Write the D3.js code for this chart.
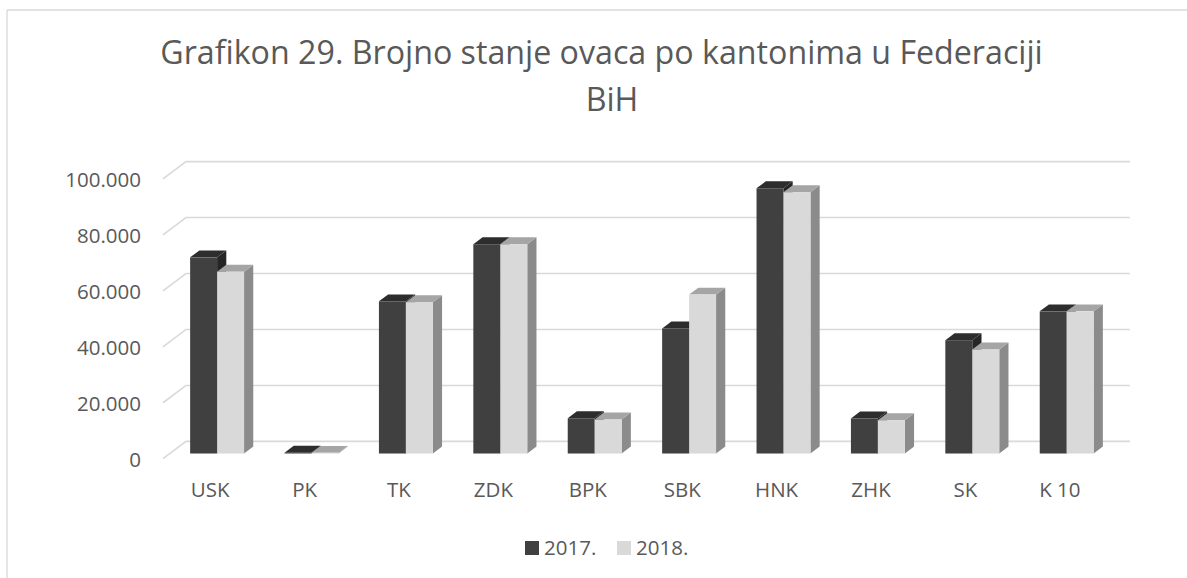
<!DOCTYPE html>
<html><head><meta charset="utf-8">
<script src="https://cdn.jsdelivr.net/npm/d3@7"></script>
<style>body{margin:0;background:#fff;}svg{display:block;}</style>
</head><body>
<svg id="c" width="1187" height="578"></svg>
<script>
const categories = ["USK","PK","TK","ZDK","BPK","SBK","HNK","ZHK","SK","K 10"];
const series = ["2017.","2018."];
const values2017 = [70100, 300, 54400, 74800, 12600, 44700, 94800, 12500, 40500, 50800];
const values2018 = [65000, 250, 54100, 74800, 12150, 56800, 93400, 11900, 37200, 50800];
const yTicks = [0, 20000, 40000, 60000, 80000, 100000];
const titleLines = ["Grafikon 29. Brojno stanje ovaca po kantonima u Federaciji", "BiH"];

const FONT = "'Open Sans', sans-serif";
const TXT = "#595959";
const svg = d3.select("#c");

// frame
svg.append("line").attr("x1",7).attr("y1",10).attr("x2",1187).attr("y2",10).attr("stroke","#d9d9d9").attr("stroke-width",1.3);
svg.append("line").attr("x1",7).attr("y1",10).attr("x2",7).attr("y2",578).attr("stroke","#d9d9d9").attr("stroke-width",1.3);

// geometry (oblique 3D)
const depthX = 23, depthY = -17.3;
const x = d3.scaleBand().domain(categories).range([163, 1107]).padding(0);
const y = d3.scaleLinear().domain([0, 100000]).range([458.7, 178.9]);
const inner = d3.scaleBand().domain(series).range([0, x.bandwidth()]).paddingInner(0).paddingOuter(0.75);
const f0 = 0.3, f1 = 0.7; // bar depth fractions

// gridlines
const g = svg.append("g");
yTicks.forEach(t => {
  const yf = y(t);
  g.append("path")
    .attr("d", `M${x.range()[0]},${yf} L${x.range()[0]+depthX},${yf+depthY} L${x.range()[1]+depthX},${yf+depthY}`)
    .attr("fill","none").attr("stroke","#d9d9d9").attr("stroke-width",1.6);
});

// y labels
const yAxis = d3.axisLeft(y).tickValues(yTicks).tickSize(0).tickPadding(0)
  .tickFormat(d => d3.format(",")(d).replace(/,/g, "."));
const ya = svg.append("g").attr("transform","translate(141,0)").call(yAxis);
ya.select(".domain").remove();
ya.selectAll("text").attr("font-family",FONT).attr("font-size","20.5px").attr("fill",TXT).attr("dy","0.36em");

// x labels
const xAxis = d3.axisBottom(x).tickSize(0).tickPadding(0);
const xa = svg.append("g").attr("transform","translate(0,497)").call(xAxis);
xa.select(".domain").remove();
xa.selectAll("text").attr("font-family",FONT).attr("font-size","20.5px").attr("fill",TXT).attr("dy","0").attr("y",0);

// bars
const styles = {
  "2017.": {front:"#404040", top:"#2d2d2d", side:"#262626"},
  "2018.": {front:"#d9d9d9", top:"#a5a5a5", side:"#8b8b8b"}
};
const data = categories.map((c,i)=>({c, vals:[values2017[i], values2018[i]]}));
const bars = svg.append("g");
const ox = depthX*(1-f1), oy = depthY*(1-f1); // front face offset from front floor
const ddx = depthX*(f1-f0), ddy = depthY*(f1-f0);
data.forEach(d => {
  series.forEach((s, si) => {
    const v = d.vals[si];
    const x0 = x(d.c) + inner(s) + ox;
    const w = inner.bandwidth();
    const yb = y(0) + oy, yt = y(v) + oy;
    const st = styles[s];
    const gg = bars.append("g");
    gg.append("path").attr("d",`M${x0+w},${yt} L${x0+w+ddx},${yt+ddy} L${x0+w+ddx},${yb+ddy} L${x0+w},${yb} Z`).attr("fill",st.side);
    gg.append("path").attr("d",`M${x0},${yt} L${x0+ddx},${yt+ddy} L${x0+w+ddx},${yt+ddy} L${x0+w},${yt} Z`).attr("fill",st.top);
    gg.append("rect").attr("x",x0).attr("y",yt).attr("width",w).attr("height",Math.max(0,yb-yt)).attr("fill",st.front);
  });
});

// title
const t1 = svg.append("text").attr("font-family",FONT).attr("fill",TXT).attr("font-size","30px").attr("text-anchor","middle")
  .attr("x",601.5).attr("y",64).text(titleLines[0]);
const w1 = t1.node().getComputedTextLength();
const fs = 30*883/w1;
t1.attr("font-size", fs+"px");
svg.append("text").attr("font-family",FONT).attr("fill",TXT).attr("font-size",fs+"px").attr("text-anchor","middle")
  .attr("x",612).attr("y",111).text(titleLines[1]);

// legend
const leg = svg.append("g");
const legX = [525, 617];
series.forEach((s,i)=>{
  leg.append("rect").attr("x",legX[i]).attr("y",541).attr("width",14).attr("height",14).attr("fill",styles[s].front);
  leg.append("text").attr("x",legX[i]+19).attr("y",555).attr("font-family",FONT).attr("font-size","20.5px").attr("fill",TXT).text(s);
});
</script>
</body></html>
